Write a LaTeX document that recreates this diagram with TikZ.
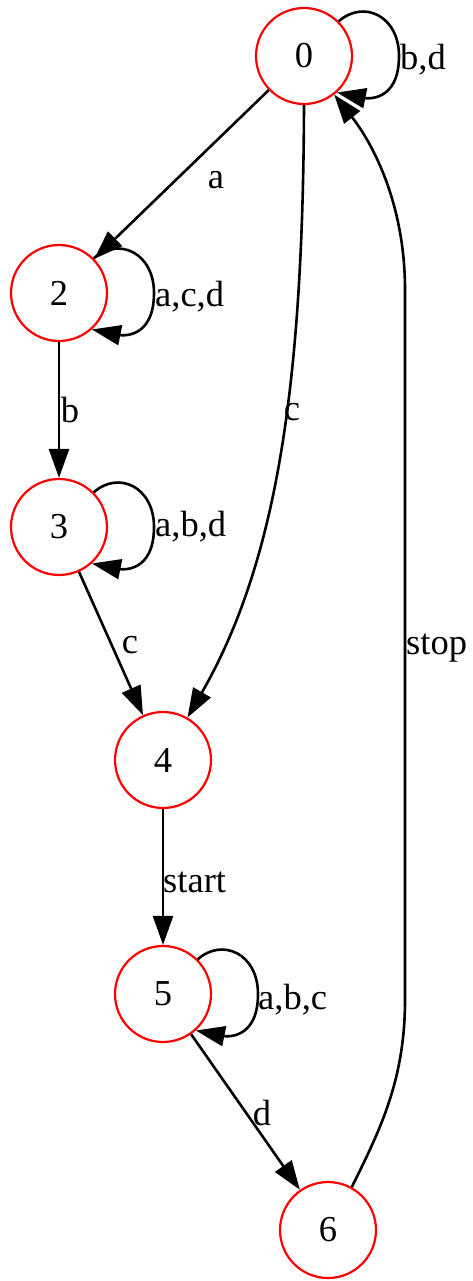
\documentclass[tikz,border=0pt]{standalone}
\usepackage{fontspec}
\setmainfont{Liberation Serif}
\usetikzlibrary{arrows.meta,calc}
\tikzset{
  state/.style={circle, draw=red, line width=2.2pt, minimum size=96pt, inner sep=0pt,
                font=\fontsize{36.5}{40}\selectfont},
  edge/.style={draw=black, line width=2.6pt, -{Triangle[length=29pt,width=20pt]}},
  lbl/.style={font=\fontsize{36.5}{40}\selectfont, inner sep=0pt},
}
\begin{document}
\begin{tikzpicture}[x=1pt,y=1pt]
  \useasboundingbox (0,0) rectangle (473,-1281);

  % states
  \node[state] (n0) at (304,-56) {0};
  \node[state] (n2) at (59,-293) {2};
  \node[state] (n3) at (59,-527) {3};
  \node[state] (n4) at (163,-760) {4};
  \node[state] (n5) at (163,-994) {5};
  \node[state] (n6) at (328,-1230) {6};

  % self loops drawn on the right side of a state
  \newcommand{\selfloop}[1]{%
    \draw[edge] (#1.45) .. controls +(25,22) and +(0,40) .. ($(#1)+(95,0)$)
      .. controls +(0,-46) and +(30,-6) .. (#1.-48);}
  \selfloop{n0}
  \selfloop{n2}
  \selfloop{n3}
  \selfloop{n5}

  % transitions
  \draw[edge] (n0) -- (n2);
  \draw[edge] (n2) -- (n3);
  \draw[edge] (n3) -- (n4);
  \draw[edge] (n0.south) .. controls (303,-380) and (278,-560) .. (n4.60);
  \draw[edge] (n4) -- (n5);
  \draw[edge] (n5) -- (n6);
  \draw[edge] (n6.61) .. controls (380,-1130) and (405,-1080) .. (405,-1000)
    -- (405,-290) .. controls (405,-200) and (370,-140) .. (n0.-52);

  % transition labels
  \node[lbl] (l02) at (216,-180) {a};
  \node[lbl, anchor=west] (l00) at (400,-60) {b,d};
  \node[lbl, anchor=west] (l22) at (155,-297) {a,c,d};
  \node[lbl] (l23) at (70,-410) {b};
  \node[lbl, anchor=west] (l33) at (155,-527) {a,b,d};
  \node[lbl] (l34) at (130,-645) {c};
  \node[lbl] (l04) at (292,-412) {c};
  \node[lbl, anchor=west] (l45) at (163,-882) {start};
  \node[lbl, anchor=west] (l55) at (258,-1000) {a,b,c};
  \node[lbl] (l56) at (262,-1113) {d};
  \node[lbl, anchor=west] (l60) at (406,-648) {stop};
\end{tikzpicture}
\end{document}
